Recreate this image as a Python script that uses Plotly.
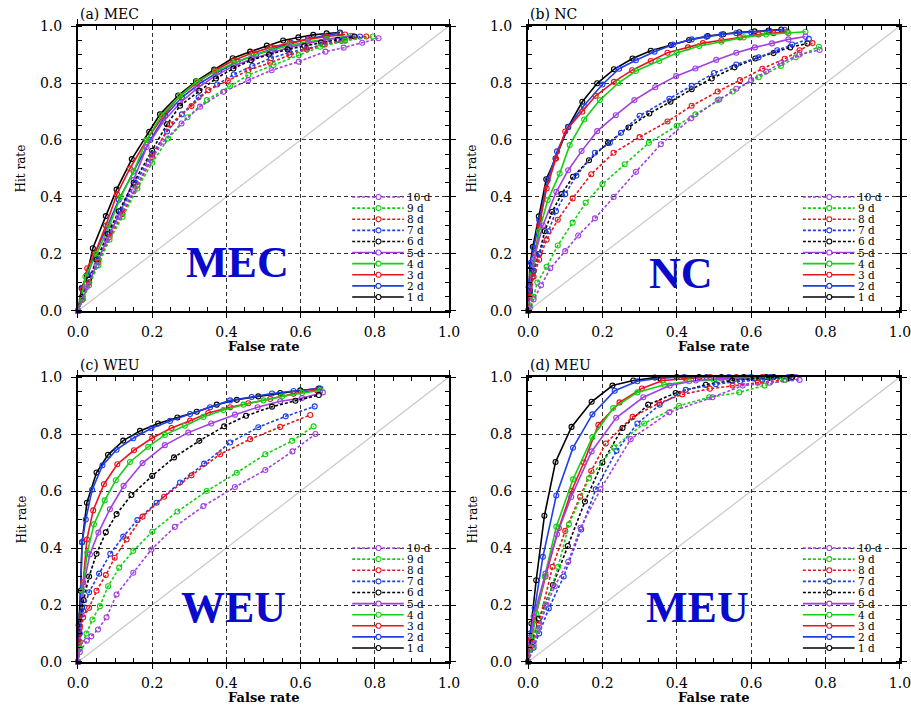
import plotly.graph_objects as go

# ---------------- data ----------------
series_names = ["1 d", "2 d", "3 d", "4 d", "5 d", "6 d", "7 d", "8 d", "9 d", "10 d"]
panel_titles = ["(a) MEC", "(b) NC", "(c) WEU", "(d) MEU"]
region_labels = ["MEC", "NC", "WEU", "MEU"]
tick_vals = [0.0, 0.2, 0.4, 0.6, 0.8, 1.0]
tick_text = ["0.0", "0.2", "0.4", "0.6", "0.8", "1.0"]

# (a) MEC : false rate / hit rate, 1 d ... 10 d
mec_x = [
    [0, 0.01, 0.024, 0.04, 0.075, 0.104, 0.145, 0.192, 0.221, 0.27, 0.318, 0.367, 0.417, 0.464, 0.509, 0.553, 0.594, 0.634, 0.67, 0.706],
    [0, 0.012, 0.027, 0.045, 0.08, 0.11, 0.15, 0.195, 0.235, 0.28, 0.33, 0.38, 0.43, 0.48, 0.53, 0.575, 0.62, 0.665, 0.705],
    [0, 0.012, 0.025, 0.045, 0.075, 0.105, 0.14, 0.185, 0.23, 0.275, 0.32, 0.37, 0.42, 0.47, 0.52, 0.57, 0.62, 0.67, 0.72],
    [0, 0.01, 0.02, 0.05, 0.085, 0.115, 0.15, 0.185, 0.225, 0.275, 0.32, 0.37, 0.42, 0.47, 0.52, 0.57, 0.62, 0.67, 0.735],
    [0, 0.012, 0.03, 0.055, 0.085, 0.115, 0.15, 0.185, 0.23, 0.275, 0.32, 0.37, 0.42, 0.47, 0.52, 0.57, 0.62, 0.67, 0.74],
    [0, 0.012, 0.03, 0.05, 0.08, 0.11, 0.15, 0.2, 0.24, 0.275, 0.327, 0.372, 0.419, 0.466, 0.515, 0.565, 0.61, 0.655, 0.7, 0.745],
    [0, 0.012, 0.03, 0.055, 0.085, 0.115, 0.155, 0.2, 0.24, 0.28, 0.325, 0.375, 0.42, 0.47, 0.52, 0.57, 0.615, 0.66, 0.71, 0.76],
    [0, 0.012, 0.03, 0.055, 0.085, 0.12, 0.16, 0.2, 0.248, 0.306, 0.351, 0.404, 0.459, 0.518, 0.57, 0.617, 0.665, 0.72, 0.777],
    [0, 0.012, 0.03, 0.055, 0.085, 0.12, 0.16, 0.2, 0.243, 0.295, 0.347, 0.41, 0.459, 0.527, 0.595, 0.653, 0.72, 0.795],
    [0, 0.01, 0.024, 0.05, 0.077, 0.11, 0.15, 0.19, 0.23, 0.279, 0.329, 0.392, 0.459, 0.522, 0.595, 0.667, 0.716, 0.766, 0.81],
]
mec_y = [
    [0, 0.08, 0.125, 0.22, 0.333, 0.426, 0.533, 0.629, 0.69, 0.756, 0.806, 0.847, 0.887, 0.91, 0.931, 0.949, 0.96, 0.969, 0.974, 0.977],
    [0, 0.08, 0.13, 0.2, 0.3, 0.39, 0.49, 0.6, 0.685, 0.75, 0.8, 0.84, 0.875, 0.9, 0.922, 0.94, 0.955, 0.965, 0.975],
    [0, 0.075, 0.15, 0.2, 0.3, 0.41, 0.5, 0.6, 0.685, 0.755, 0.8, 0.845, 0.88, 0.905, 0.925, 0.94, 0.953, 0.963, 0.97],
    [0, 0.05, 0.12, 0.2, 0.3, 0.4, 0.49, 0.6, 0.687, 0.755, 0.805, 0.84, 0.87, 0.895, 0.915, 0.932, 0.945, 0.955, 0.966],
    [0, 0.04, 0.1, 0.18, 0.27, 0.35, 0.46, 0.575, 0.665, 0.73, 0.78, 0.825, 0.86, 0.885, 0.905, 0.925, 0.94, 0.952, 0.965],
    [0, 0.05, 0.11, 0.18, 0.27, 0.35, 0.45, 0.562, 0.655, 0.72, 0.773, 0.816, 0.851, 0.88, 0.9, 0.918, 0.93, 0.942, 0.952, 0.963],
    [0, 0.04, 0.1, 0.18, 0.27, 0.35, 0.45, 0.55, 0.63, 0.69, 0.75, 0.795, 0.83, 0.86, 0.887, 0.907, 0.92, 0.935, 0.948, 0.963],
    [0, 0.04, 0.1, 0.17, 0.26, 0.34, 0.44, 0.54, 0.655, 0.719, 0.775, 0.808, 0.845, 0.871, 0.898, 0.918, 0.935, 0.95, 0.963],
    [0, 0.04, 0.09, 0.16, 0.25, 0.33, 0.43, 0.52, 0.605, 0.68, 0.74, 0.789, 0.828, 0.863, 0.898, 0.927, 0.948, 0.963],
    [0, 0.04, 0.084, 0.16, 0.248, 0.33, 0.42, 0.518, 0.594, 0.658, 0.717, 0.769, 0.81, 0.845, 0.875, 0.91, 0.924, 0.941, 0.957],
]

# (b) NC
nc_x = [
    [0, 0.002, 0.005, 0.013, 0.029, 0.049, 0.074, 0.108, 0.146, 0.186, 0.231, 0.281, 0.33, 0.384, 0.433, 0.483, 0.525, 0.568, 0.609, 0.647, 0.681],
    [0, 0.003, 0.008, 0.015, 0.03, 0.053, 0.078, 0.108, 0.15, 0.2, 0.245, 0.29, 0.34, 0.39, 0.44, 0.48, 0.52, 0.56, 0.6, 0.65, 0.69],
    [0, 0.005, 0.012, 0.02, 0.03, 0.05, 0.075, 0.1, 0.146, 0.182, 0.231, 0.28, 0.33, 0.375, 0.43, 0.47, 0.52, 0.57, 0.62, 0.66, 0.697],
    [0, 0.005, 0.012, 0.03, 0.053, 0.085, 0.112, 0.151, 0.193, 0.243, 0.29, 0.353, 0.4, 0.46, 0.52, 0.58, 0.64, 0.7, 0.746],
    [0, 0.005, 0.015, 0.04, 0.076, 0.108, 0.144, 0.186, 0.236, 0.286, 0.342, 0.398, 0.45, 0.506, 0.56, 0.61, 0.656, 0.7, 0.746],
    [0, 0.005, 0.015, 0.03, 0.045, 0.065, 0.09, 0.121, 0.164, 0.215, 0.27, 0.326, 0.383, 0.44, 0.494, 0.555, 0.611, 0.66, 0.705, 0.751],
    [0, 0.005, 0.015, 0.03, 0.055, 0.075, 0.1, 0.13, 0.18, 0.22, 0.25, 0.3, 0.38, 0.44, 0.5, 0.56, 0.62, 0.67, 0.71, 0.755],
    [0, 0.005, 0.015, 0.03, 0.05, 0.08, 0.12, 0.17, 0.23, 0.3, 0.375, 0.44, 0.51, 0.57, 0.63, 0.69, 0.73, 0.765],
    [0, 0.005, 0.015, 0.025, 0.05, 0.08, 0.12, 0.155, 0.2, 0.26, 0.325, 0.4, 0.45, 0.51, 0.55, 0.62, 0.68, 0.72, 0.782],
    [0, 0.005, 0.015, 0.035, 0.06, 0.1, 0.135, 0.18, 0.23, 0.29, 0.357, 0.439, 0.514, 0.56, 0.6, 0.64, 0.68, 0.73, 0.784],
]
nc_y = [
    [0, 0.084, 0.16, 0.225, 0.332, 0.462, 0.535, 0.646, 0.734, 0.799, 0.848, 0.886, 0.913, 0.933, 0.951, 0.965, 0.971, 0.978, 0.981, 0.984, 0.988],
    [0, 0.1, 0.17, 0.22, 0.32, 0.46, 0.56, 0.645, 0.72, 0.795, 0.85, 0.88, 0.91, 0.935, 0.953, 0.962, 0.97, 0.975, 0.978, 0.982, 0.987],
    [0, 0.06, 0.12, 0.2, 0.3, 0.43, 0.535, 0.63, 0.699, 0.755, 0.804, 0.845, 0.877, 0.906, 0.925, 0.94, 0.95, 0.96, 0.97, 0.975, 0.98],
    [0, 0.07, 0.13, 0.28, 0.389, 0.482, 0.582, 0.672, 0.74, 0.8, 0.842, 0.877, 0.905, 0.93, 0.945, 0.96, 0.97, 0.975, 0.98],
    [0, 0.08, 0.18, 0.3, 0.418, 0.494, 0.561, 0.631, 0.687, 0.74, 0.785, 0.824, 0.851, 0.881, 0.906, 0.925, 0.939, 0.953, 0.963],
    [0, 0.07, 0.14, 0.2, 0.28, 0.348, 0.41, 0.471, 0.529, 0.59, 0.644, 0.693, 0.734, 0.778, 0.816, 0.855, 0.886, 0.905, 0.925, 0.939],
    [0, 0.07, 0.14, 0.2, 0.28, 0.35, 0.41, 0.475, 0.555, 0.59, 0.625, 0.685, 0.745, 0.79, 0.835, 0.865, 0.89, 0.915, 0.935, 0.955],
    [0, 0.05, 0.12, 0.18, 0.25, 0.32, 0.395, 0.48, 0.555, 0.61, 0.665, 0.72, 0.77, 0.81, 0.85, 0.885, 0.915, 0.94],
    [0, 0.02, 0.05, 0.1, 0.155, 0.23, 0.31, 0.38, 0.445, 0.515, 0.59, 0.65, 0.69, 0.74, 0.77, 0.82, 0.86, 0.89, 0.927],
    [0, 0.01, 0.04, 0.09, 0.15, 0.21, 0.265, 0.325, 0.4, 0.488, 0.585, 0.676, 0.742, 0.78, 0.81, 0.84, 0.87, 0.9, 0.916],
]

# (c) WEU
weu_x = [
    [0, 0.002, 0.007, 0.011, 0.024, 0.05, 0.081, 0.122, 0.167, 0.216, 0.268, 0.32, 0.374, 0.428, 0.486, 0.545, 0.599, 0.649],
    [0, 0.005, 0.011, 0.021, 0.038, 0.066, 0.104, 0.149, 0.198, 0.248, 0.302, 0.356, 0.41, 0.468, 0.523, 0.581, 0.653],
    [0, 0.005, 0.014, 0.024, 0.041, 0.07, 0.106, 0.151, 0.2, 0.252, 0.302, 0.351, 0.41, 0.459, 0.518, 0.581, 0.644],
    [0, 0.005, 0.012, 0.025, 0.043, 0.072, 0.102, 0.14, 0.189, 0.234, 0.288, 0.338, 0.392, 0.446, 0.5, 0.55, 0.604, 0.653],
    [0, 0.005, 0.015, 0.032, 0.055, 0.086, 0.123, 0.174, 0.234, 0.297, 0.359, 0.423, 0.484, 0.545, 0.604, 0.66],
    [0, 0.003, 0.011, 0.015, 0.03, 0.05, 0.075, 0.104, 0.144, 0.2, 0.259, 0.327, 0.394, 0.453, 0.523, 0.586, 0.649],
    [0, 0.005, 0.014, 0.03, 0.057, 0.087, 0.122, 0.16, 0.212, 0.275, 0.34, 0.41, 0.486, 0.56, 0.638],
    [0, 0.005, 0.014, 0.03, 0.05, 0.075, 0.099, 0.131, 0.174, 0.232, 0.306, 0.383, 0.464, 0.545, 0.626],
    [0, 0.005, 0.023, 0.039, 0.059, 0.081, 0.111, 0.149, 0.2, 0.268, 0.347, 0.428, 0.505, 0.577, 0.635],
    [0, 0.005, 0.024, 0.036, 0.054, 0.077, 0.104, 0.149, 0.198, 0.261, 0.338, 0.423, 0.505, 0.578, 0.64],
]
weu_y = [
    [0, 0.13, 0.25, 0.42, 0.559, 0.665, 0.727, 0.777, 0.811, 0.837, 0.858, 0.878, 0.903, 0.92, 0.932, 0.944, 0.953, 0.96],
    [0, 0.16, 0.42, 0.5, 0.604, 0.69, 0.745, 0.785, 0.82, 0.846, 0.87, 0.894, 0.918, 0.93, 0.942, 0.951, 0.96],
    [0, 0.12, 0.28, 0.43, 0.532, 0.624, 0.694, 0.743, 0.786, 0.821, 0.847, 0.874, 0.894, 0.908, 0.923, 0.941, 0.954],
    [0, 0.05, 0.25, 0.383, 0.483, 0.567, 0.638, 0.702, 0.755, 0.797, 0.829, 0.86, 0.884, 0.903, 0.918, 0.932, 0.944, 0.953],
    [0, 0.07, 0.27, 0.377, 0.454, 0.536, 0.618, 0.698, 0.761, 0.805, 0.837, 0.868, 0.894, 0.915, 0.926, 0.946],
    [0, 0.1, 0.19, 0.217, 0.3, 0.38, 0.455, 0.519, 0.586, 0.653, 0.718, 0.776, 0.827, 0.864, 0.896, 0.917, 0.937],
    [0, 0.1, 0.18, 0.245, 0.31, 0.38, 0.44, 0.498, 0.559, 0.63, 0.696, 0.77, 0.824, 0.862, 0.897],
    [0, 0.07, 0.156, 0.19, 0.25, 0.305, 0.366, 0.43, 0.51, 0.58, 0.655, 0.729, 0.782, 0.825, 0.867],
    [0, 0.047, 0.1, 0.149, 0.196, 0.266, 0.331, 0.39, 0.457, 0.528, 0.6, 0.664, 0.729, 0.776, 0.827],
    [0, 0.035, 0.075, 0.09, 0.114, 0.157, 0.237, 0.313, 0.395, 0.474, 0.547, 0.614, 0.674, 0.739, 0.8],
]

# (d) MEU
meu_x = [
    [0, 0.004, 0.009, 0.022, 0.044, 0.074, 0.117, 0.171, 0.227, 0.283, 0.341, 0.4, 0.46, 0.52, 0.58, 0.64, 0.71],
    [0, 0.005, 0.018, 0.04, 0.076, 0.121, 0.173, 0.233, 0.294, 0.354, 0.42, 0.48, 0.54, 0.6, 0.65, 0.7],
    [0, 0.008, 0.018, 0.047, 0.083, 0.117, 0.15, 0.189, 0.246, 0.306, 0.362, 0.424, 0.49, 0.56, 0.63, 0.71],
    [0, 0.011, 0.022, 0.045, 0.076, 0.121, 0.173, 0.229, 0.294, 0.366, 0.433, 0.5, 0.56, 0.62, 0.7],
    [0, 0.005, 0.015, 0.047, 0.078, 0.116, 0.171, 0.237, 0.31, 0.381, 0.451, 0.52, 0.59, 0.66, 0.72],
    [0, 0.012, 0.029, 0.067, 0.107, 0.153, 0.2, 0.254, 0.323, 0.397, 0.478, 0.549, 0.61, 0.66, 0.71],
    [0, 0.015, 0.03, 0.056, 0.096, 0.143, 0.182, 0.238, 0.294, 0.354, 0.424, 0.505, 0.57, 0.63, 0.7],
    [0, 0.006, 0.029, 0.066, 0.1, 0.14, 0.17, 0.209, 0.281, 0.353, 0.415, 0.489, 0.55, 0.618, 0.69],
    [0, 0.01, 0.025, 0.047, 0.081, 0.11, 0.164, 0.231, 0.312, 0.406, 0.487, 0.568, 0.636, 0.69],
    [0, 0.015, 0.03, 0.05, 0.072, 0.108, 0.141, 0.195, 0.276, 0.38, 0.496, 0.577, 0.65, 0.73],
]
meu_y = [
    [0, 0.076, 0.135, 0.287, 0.513, 0.702, 0.825, 0.913, 0.97, 0.988, 0.998, 1.0, 1.0, 1.0, 1.0, 1.0, 1.0],
    [0, 0.1, 0.188, 0.369, 0.584, 0.752, 0.869, 0.952, 0.985, 0.996, 1.0, 1.0, 1.0, 1.0, 1.0, 1.0],
    [0, 0.08, 0.147, 0.3, 0.47, 0.6, 0.7, 0.832, 0.911, 0.96, 0.988, 0.995, 1.0, 1.0, 1.0, 1.0],
    [0, 0.088, 0.17, 0.3, 0.475, 0.641, 0.789, 0.891, 0.946, 0.973, 0.985, 0.99, 0.993, 0.995, 0.997],
    [0, 0.06, 0.16, 0.31, 0.448, 0.579, 0.739, 0.857, 0.929, 0.97, 0.988, 0.995, 0.998, 1.0, 1.0],
    [0, 0.07, 0.152, 0.27, 0.407, 0.563, 0.7, 0.821, 0.903, 0.944, 0.973, 0.988, 0.995, 1.0, 1.0],
    [0, 0.05, 0.1, 0.188, 0.3, 0.465, 0.606, 0.741, 0.837, 0.903, 0.955, 0.975, 0.985, 0.99, 0.995],
    [0, 0.05, 0.135, 0.334, 0.46, 0.58, 0.67, 0.767, 0.86, 0.909, 0.939, 0.959, 0.97, 0.98, 0.99],
    [0, 0.05, 0.11, 0.2, 0.334, 0.483, 0.645, 0.753, 0.837, 0.899, 0.929, 0.946, 0.97, 0.99],
    [0, 0.06, 0.12, 0.2, 0.266, 0.352, 0.471, 0.606, 0.782, 0.876, 0.929, 0.97, 0.98, 0.99],
]

# ---------------- style ----------------
colors = ["#000000", "#1f3fe6", "#e8141e", "#14d014", "#a040e0"] * 2
dashes = ["solid"] * 5 + ["3px,2px"] * 5
SERIF = "DejaVu Serif"
BIG = "Liberation Serif"

panel_x = [mec_x, nc_x, weu_x, meu_x]
panel_y = [mec_y, nc_y, weu_y, meu_y]
label_pos = [(0.43, 0.17), (0.41, 0.13), (0.42, 0.19), (0.455, 0.19)]

xdom = [[0.0856, 0.4929], [0.5796, 0.9879], [0.0856, 0.4929], [0.5796, 0.9879]]
ydom = [[0.5589, 0.9631], [0.5589, 0.9631], [0.0610, 0.4652], [0.0610, 0.4652]]

fig = go.Figure()
layout = dict(
    width=911, height=705, autosize=False,
    margin=dict(l=0, r=0, t=0, b=0, pad=0),
    paper_bgcolor="white", plot_bgcolor="white",
    showlegend=False,
    font=dict(family=SERIF, color="black"),
)
shapes = []
annotations = []

for p in range(4):
    k = p + 1
    xa = "x" if k == 1 else f"x{k}"
    ya = "y" if k == 1 else f"y{k}"
    xdref = f"{xa} domain"
    ydref = f"{ya} domain"

    axis_common = dict(
        range=[0, 1], tickvals=tick_vals, ticktext=tick_text, automargin=False,
        ticklabeloverflow="allow",
        showline=True, linewidth=2, linecolor="black", mirror="allticks",
        ticks="outside", ticklen=5, tickwidth=1.2, tickcolor="black",
        minor=dict(dtick=0.05, ticks="inside", ticklen=4, tickwidth=1, tickcolor="black", showgrid=False),
        showgrid=True, gridcolor="#333333", gridwidth=1, griddash="4px,3px",
        zeroline=False, tickfont=dict(family=SERIF, size=14, color="black"),
        fixedrange=True,
    )
    layout["xaxis" if k == 1 else f"xaxis{k}"] = dict(axis_common, domain=xdom[p], anchor=ya, ticklabelstandoff=2)
    layout["yaxis" if k == 1 else f"yaxis{k}"] = dict(axis_common, domain=ydom[p], anchor=xa, ticklabelstandoff=6)

    # diagonal reference line
    shapes.append(dict(type="line", xref=xdref, yref=ydref, x0=0, y0=0, x1=1, y1=1,
                       line=dict(color="#c8c8c8", width=1.2), layer="below"))

    # curves
    for i in range(10):
        fig.add_trace(go.Scatter(
            x=panel_x[p][i], y=panel_y[p][i], xaxis=xa, yaxis=ya,
            mode="lines+markers", name=series_names[i], cliponaxis=False,
            line=dict(color=colors[i], width=1.6, dash=dashes[i]),
            marker=dict(symbol="circle-open", size=5, color=colors[i], line=dict(width=1.1, color=colors[i])),
        ))

    # manual legend (10 d at top, 1 d at bottom)
    for i in range(10):
        yrow = 0.049 + i * 0.039
        shapes.append(dict(type="line", xref=xdref, yref=ydref, x0=0.739, x1=0.878, y0=yrow, y1=yrow,
                           line=dict(color=colors[i], width=1.6, dash=dashes[i]), layer="above"))
        shapes.append(dict(type="circle", xref=xdref, yref=ydref, xsizemode="pixel", ysizemode="pixel",
                           xanchor=0.81, yanchor=yrow, x0=-2.5, x1=2.5, y0=-2.5, y1=2.5,
                           line=dict(color=colors[i], width=1.1), fillcolor="white", layer="above"))
        annotations.append(dict(xref=xdref, yref=ydref, x=0.885, y=yrow, xanchor="left", yanchor="middle",
                                text=series_names[i], showarrow=False, borderpad=0,
                                font=dict(family=SERIF, size=10.5, color="black")))

    # panel title
    annotations.append(dict(xref=xdref, yref=ydref, x=0, y=1, xanchor="left", yanchor="bottom", yshift=2,
                            text=panel_titles[p], showarrow=False,
                            font=dict(family=SERIF, size=14, color="black")))
    # big region label
    annotations.append(dict(xref=xdref, yref=ydref, x=label_pos[p][0], y=label_pos[p][1],
                            xanchor="center", yanchor="middle", text=f"<b>{region_labels[p]}</b>",
                            showarrow=False, font=dict(family=BIG, size=44, color="#0a0acc")))
    # axis titles
    annotations.append(dict(xref=xdref, yref=ydref, x=0, y=0.5, xshift=-56, textangle=-90,
                            xanchor="center", yanchor="middle", text="Hit rate", showarrow=False,
                            font=dict(family=SERIF, size=12, color="black")))
    annotations.append(dict(xref=xdref, yref=ydref, x=0.5, y=0, yshift=-36,
                            xanchor="center", yanchor="middle", text="<b>False rate</b>", showarrow=False,
                            font=dict(family=SERIF, size=13, color="black")))

layout["shapes"] = shapes
layout["annotations"] = annotations
fig.update_layout(**layout)
fig.write_html("out.html", config={"displayModeBar": False},
               post_script="document.body.style.margin='0';document.body.style.padding='0';"
                           "document.documentElement.style.overflow='hidden';")
